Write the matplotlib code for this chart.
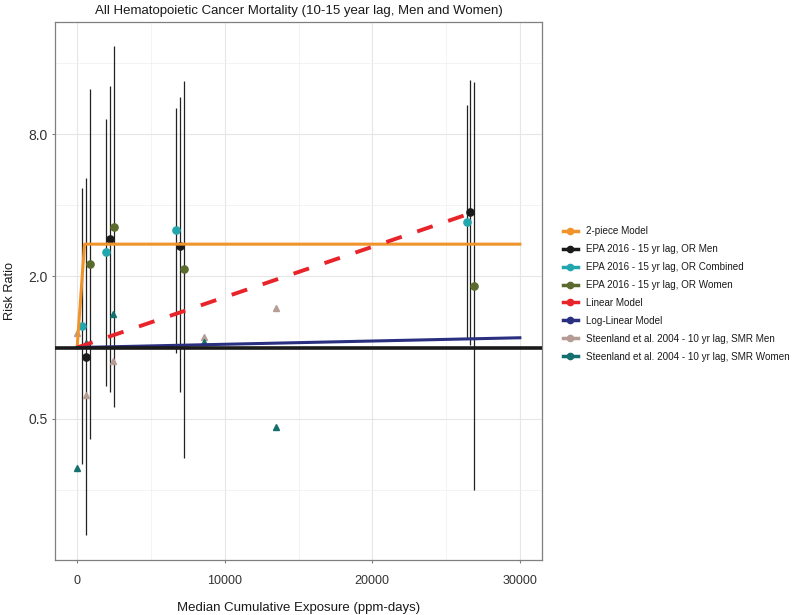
import matplotlib
matplotlib.use("Agg")
import matplotlib.pyplot as plt
from matplotlib.lines import Line2D

plt.rcParams['font.family'] = ['Liberation Sans', 'DejaVu Sans']

# EPA 2016 - 15 yr lag odds ratios (point, lower CI, upper CI)
epa_comb_x = [353, 1982, 6733, 26416]
epa_comb_rr = [1.23, 2.53, 3.14, 3.41]
epa_comb_lo = [0.32, 0.69, 0.95, 1.10]
epa_comb_hi = [4.72, 9.24, 10.34, 10.69]

epa_men_x = [624, 2206, 7004, 26641]
epa_men_rr = [0.91, 2.89, 2.70, 3.76]
epa_men_lo = [0.16, 0.65, 0.65, 1.03]
epa_men_hi = [5.21, 12.8, 11.5, 13.6]

epa_women_x = [848, 2477, 7249, 26865]
epa_women_rr = [2.25, 3.25, 2.16, 1.83]
epa_women_lo = [0.41, 0.56, 0.34, 0.25]
epa_women_hi = [12.4, 18.9, 13.5, 13.3]

# Steenland et al. 2004 - 10 yr lag SMRs
st_x = [0, 577, 2430, 8586, 13473]
st_men_rr = [1.15, 0.63, 0.875, 1.11, 1.47]
st_women_rr = [0.31, 1.05, 1.39, 1.06, 0.46]

# fitted models
twopiece_x = [0, 500, 30000]
twopiece_rr = [1.0, 2.74, 2.74]
linear_x = [0, 26200]
linear_rr = [1.0, 3.62]
loglinear_x = [0, 30000]
loglinear_rr = [1.0, 1.10]

col = {
    '2-piece Model': '#F0932B',
    'EPA 2016 - 15 yr lag, OR Men': '#1a1a1a',
    'EPA 2016 - 15 yr lag, OR Combined': '#22A6AD',
    'EPA 2016 - 15 yr lag, OR Women': '#5B6B2E',
    'Linear Model': '#E8242B',
    'Log-Linear Model': '#2A2F7F',
    'Steenland et al. 2004 - 10 yr lag, SMR Men': '#B59D95',
    'Steenland et al. 2004 - 10 yr lag, SMR Women': '#13706E',
}

fig = plt.figure(figsize=(7.92, 6.15), dpi=100)
ax = fig.add_axes([55 / 792, 1 - 560 / 615, 487 / 792, 538 / 615])

# error bars
for xs, lo, hi in [(epa_comb_x, epa_comb_lo, epa_comb_hi),
                   (epa_men_x, epa_men_lo, epa_men_hi),
                   (epa_women_x, epa_women_lo, epa_women_hi)]:
    ax.vlines(xs, lo, hi, color='#222222', lw=0.9, zorder=3)

# points
ax.plot(epa_comb_x, epa_comb_rr, 'o', ms=5.2, color=col['EPA 2016 - 15 yr lag, OR Combined'], zorder=4)
ax.plot(epa_men_x, epa_men_rr, 'o', ms=5.2, color=col['EPA 2016 - 15 yr lag, OR Men'], zorder=4)
ax.plot(epa_women_x, epa_women_rr, 'o', ms=5.2, color=col['EPA 2016 - 15 yr lag, OR Women'], zorder=4)
ax.plot(st_x, st_men_rr, '^', ms=4.3, color=col['Steenland et al. 2004 - 10 yr lag, SMR Men'], zorder=4)
ax.plot(st_x, st_women_rr, '^', ms=4.3, color=col['Steenland et al. 2004 - 10 yr lag, SMR Women'], zorder=4)

# models
ax.plot(twopiece_x, twopiece_rr, color=col['2-piece Model'], lw=2.2, zorder=5)
ax.plot(linear_x, linear_rr, color=col['Linear Model'], lw=2.8, dashes=(4.2, 4.2), zorder=5)
ax.plot(loglinear_x, loglinear_rr, color=col['Log-Linear Model'], lw=2.2, zorder=5)
ax.axhline(1.0, color='#1a1a1a', lw=2.6, zorder=6)

ax.set_yscale('log', base=2)
ax.set_ylim(0.126, 23.9)
ax.set_yticks([0.5, 2, 8])
ax.set_yticklabels(['0.5', '2.0', '8.0'])
ax.set_yticks([0.25, 1, 4, 16], minor=True)
ax.set_yticklabels([], minor=True)
ax.set_xlim(-1500, 31500)
ax.set_xticks([0, 10000, 20000, 30000])
ax.set_xticks([5000, 15000, 25000], minor=True)

ax.grid(True, which='major', color='#e6e6e6', lw=0.8)
ax.grid(True, which='minor', color='#efefef', lw=0.5)
ax.set_axisbelow(True)
for s in ax.spines.values():
    s.set_color('#7f7f7f')
    s.set_linewidth(0.9)
ax.tick_params(which='major', length=2.5, color='#7f7f7f', labelcolor='#333333')
ax.tick_params(axis='x', which='major', labelsize=9, pad=8)
ax.tick_params(axis='y', which='major', labelsize=10, pad=3)
ax.tick_params(which='minor', length=0)

ax.set_title('All Hematopoietic Cancer Mortality (10-15 year lag, Men and Women)', fontsize=9.5, color='#1a1a1a', pad=6)
ax.set_xlabel('Median Cumulative Exposure (ppm-days)', fontsize=9.5, color='#1a1a1a', labelpad=11)
fig.text(10 / 792, 1 - 291 / 615, 'Risk Ratio', rotation=90, ha='center', va='center',
         fontsize=9.2, color='#1a1a1a')

handles = [Line2D([], [], color=c, lw=2.5, marker='o', ms=4.5) for c in col.values()]
fig.legend(handles, list(col.keys()), loc='center left', bbox_to_anchor=(554 / 792, 1 - 294 / 615),
           frameon=False, fontsize=7.1, handlelength=1.5, handletextpad=0.8, labelspacing=0.8,
           labelcolor='#1a1a1a')

fig.savefig('out.png', dpi=100)
